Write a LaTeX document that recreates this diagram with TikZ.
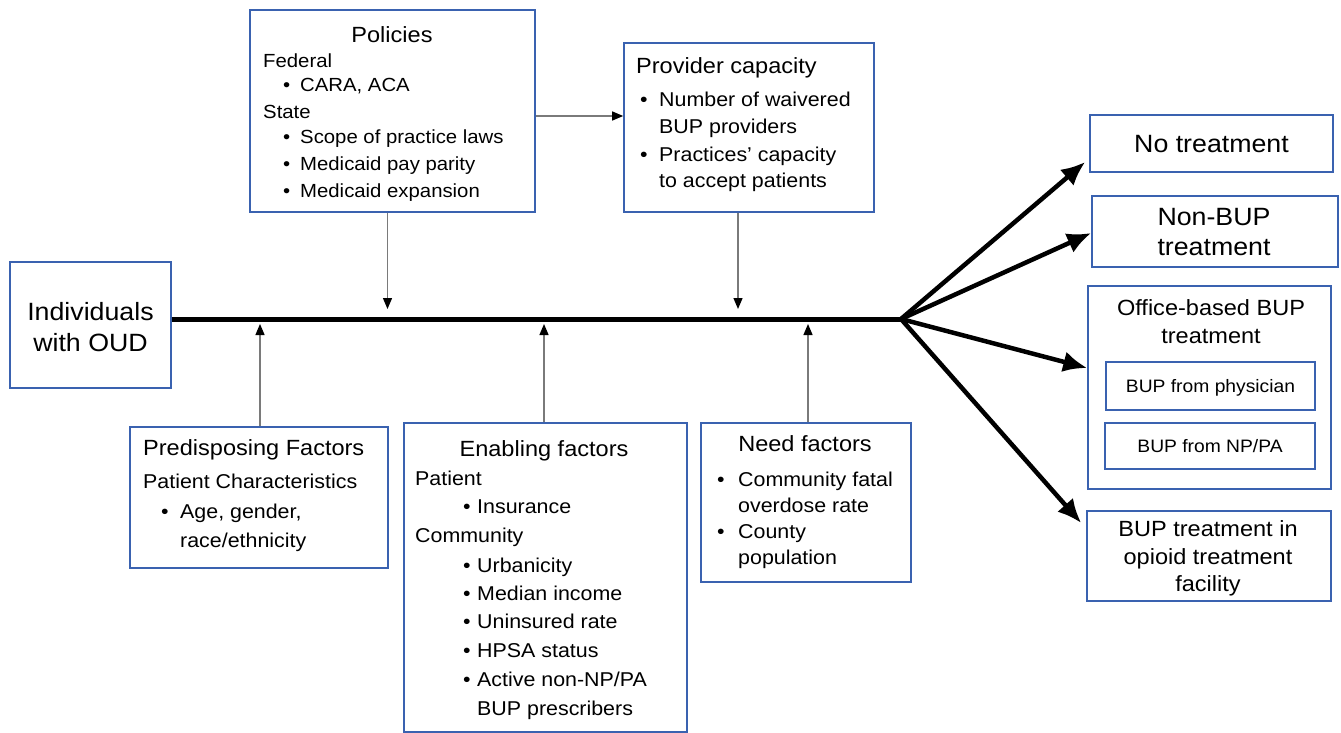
\documentclass[tikz,border=0pt]{standalone}
\usepackage{fontspec}
\setmainfont{Liberation Sans}[FakeStretch=1.07]
\usetikzlibrary{arrows.meta,calc}
\definecolor{boxblue}{HTML}{3A62B0}
\definecolor{thingray}{HTML}{7A7A7A}
\newcommand\fsz[1]{\fontsize{#1}{#1}\selectfont}
\begin{document}
\begin{tikzpicture}[x=1pt,y=-1pt,
  box/.style={draw=boxblue,line width=1.6pt,inner sep=0pt,fill=white},
  tl/.style={inner sep=0pt,anchor=base west},
  tc/.style={inner sep=0pt,anchor=base},
  ttl/.style={font=\fsz{22}},
  bd/.style={font=\fsz{20}},
  bds/.style={font=\fsz{19}},
  big/.style={font=\fsz{25}},
  sml/.style={font=\fsz{18}},
  thinarrow/.style={draw=thingray,line width=1.3pt,-{Triangle[length=11pt,width=9pt,color=black]}},
  thickarrow/.style={draw=black,line width=4.5pt,-{Latex[length=24pt,width=21pt]}},
]
\useasboundingbox (0,0) rectangle (1341,733);
\newcommand\bitem[6]{\node[tl,#6] (#1b) at (#2,#4) {\textbullet}; \node[tl,#6] (#1) at (#3,#4) {#5};}

% boxes
\node[box,minimum width=285pt,minimum height=202pt] (pol) at (392.5,111) {};
\node[box,minimum width=250pt,minimum height=169pt] (prov) at (749,127.5) {};
\node[box,minimum width=161pt,minimum height=126pt] (ind) at (90.5,325) {};
\node[box,minimum width=258pt,minimum height=141pt] (pre) at (259,497.5) {};
\node[box,minimum width=283pt,minimum height=309pt] (ena) at (545.5,577.5) {};
\node[box,minimum width=210pt,minimum height=159pt] (need) at (806,502.5) {};
\node[box,minimum width=243pt,minimum height=57pt] (nt) at (1211.5,143.5) {};
\node[box,minimum width=246pt,minimum height=71pt] (nb) at (1215,231.5) {};
\node[box,minimum width=243pt,minimum height=203pt] (off) at (1209.5,387.5) {};
\node[box,minimum width=209pt,minimum height=48pt] (phy) at (1210.5,386) {};
\node[box,minimum width=210pt,minimum height=46pt] (nppa) at (1210,446) {};
\node[box,minimum width=244pt,minimum height=90pt] (otf) at (1209,556) {};

% Policies text
\node[tc,ttl] (polt) at (392,43) {Policies};
\node[tl,bds] (polf) at (263,68) {Federal};
\bitem{pol1}{283}{300}{92}{CARA, ACA}{bds}
\node[tl,bds] (pols) at (263,119) {State};
\bitem{pol2}{283}{300}{144}{Scope of practice laws}{bds}
\bitem{pol3}{283}{300}{171}{Medicaid pay parity}{bds}
\bitem{pol4}{283}{300}{197}{Medicaid expansion}{bds}

% Provider capacity text
\node[tl,ttl] (provt) at (636,74) {Provider capacity};
\bitem{pr1}{640}{659}{107}{Number of waivered}{bd}
\node[tl,bd] (pr1x) at (659,134) {BUP providers};
\bitem{pr2}{640}{659}{161}{Practices’ capacity}{bd}
\node[tl,bd] (pr2x) at (659,187) {to accept patients};

% Individuals
\node[tc,big] (ind1) at (90.5,320) {Individuals};
\node[tc,big] (ind2) at (90.5,351) {with OUD};

% Predisposing
\node[tl,ttl] (pret) at (143,455) {Predisposing Factors};
\node[tl,bd] (pre1) at (143,488) {Patient Characteristics};
\bitem{pre2}{161}{180}{518}{Age, gender,}{bd}
\node[tl,bd] (pre3) at (180,547) {race/ethnicity};

% Enabling
\node[tc,ttl] (enat) at (544,456) {Enabling factors};
\node[tl,bd] (ena1) at (415,485) {Patient};
\bitem{ena2}{463}{477}{513}{Insurance}{bd}
\node[tl,bd] (ena3) at (415,542) {Community};
\bitem{ena4}{463}{477}{572}{Urbanicity}{bd}
\bitem{ena5}{463}{477}{600}{Median income}{bd}
\bitem{ena6}{463}{477}{628}{Uninsured rate}{bd}
\bitem{ena7}{463}{477}{657}{HPSA status}{bd}
\bitem{ena8}{463}{477}{686}{Active non-NP/PA}{bd}
\node[tl,bd] (ena9) at (477,715) {BUP prescribers};

% Need
\node[tc,ttl] (needt) at (805,451) {Need factors};
\bitem{nd1}{717}{738}{486}{Community fatal}{bd}
\node[tl,bd] (nd1x) at (738,512) {overdose rate};
\bitem{nd2}{717}{738}{538}{County}{bd}
\node[tl,bd] (nd2x) at (738,564) {population};

% outcomes
\node[tc,big] (ntt) at (1211.5,153) {No treatment};
\node[tc,big] (nbt1) at (1214,225) {Non-BUP};
\node[tc,big] (nbt2) at (1214,255) {treatment};
\node[tc,ttl] (offt1) at (1211,315) {Office-based BUP};
\node[tc,ttl] (offt2) at (1211,343) {treatment};
\node[tc,sml] (phyt) at (1210.5,392.5) {BUP from physician};
\node[tc,sml] (nppat) at (1210,452.5) {BUP from NP/PA};
\node[tc,ttl] (otf1) at (1208,536) {BUP treatment in};
\node[tc,ttl] (otf2) at (1208,564) {opioid treatment};
\node[tc,ttl] (otf3) at (1208,591) {facility};

% main line
\coordinate (br) at (901,319);
\draw[line width=5pt] (ind.east |- br) -- (br);

% branches
\draw[thickarrow] (br) -- ([xshift=-4pt,yshift=-18.5pt]nt.west);
\draw[thickarrow] (br) -- ([yshift=-1.5pt]nb.west);
\draw[thickarrow] (br) -- ([yshift=19.5pt]off.west);
\draw[thickarrow] (br) -- ([xshift=-5pt,yshift=33pt]otf.west);

% thin arrows
\coordinate (d1) at (387.5,309);
\coordinate (d2) at (738,309);
\coordinate (u1) at (260,324);
\coordinate (u2) at (544,324);
\coordinate (u3) at (808,324);
\coordinate (pp) at (580,116);
\draw[thinarrow] (pol.south -| d1) -- (d1);
\draw[thinarrow] (prov.south -| d2) -- (d2);
\draw[thinarrow] (pre.north -| u1) -- (u1);
\draw[thinarrow] (ena.north -| u2) -- (u2);
\draw[thinarrow] (need.north -| u3) -- (u3);
\draw[thinarrow] (pol.east |- pp) -- (prov.west |- pp);
\end{tikzpicture}
\end{document}
